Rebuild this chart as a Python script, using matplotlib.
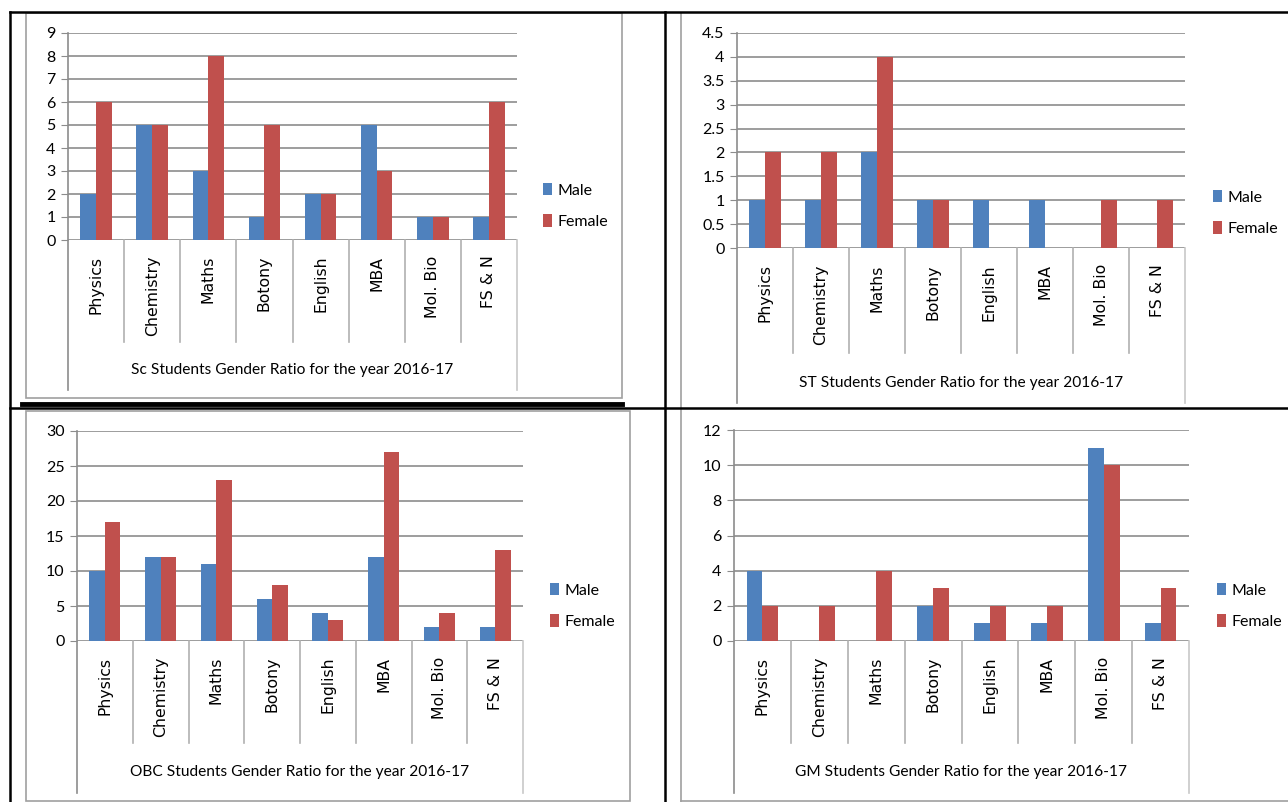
import matplotlib.pyplot as plt
from matplotlib.lines import Line2D
from matplotlib.patches import Rectangle

# subjects and counts per category
subjects = ["Physics", "Chemistry", "Maths", "Botony", "English", "MBA", "Mol. Bio", "FS & N"]

sc_male = [2, 5, 3, 1, 2, 5, 1, 1]
sc_female = [6, 5, 8, 5, 2, 3, 1, 6]

st_male = [1, 1, 2, 1, 1, 1, 0, 0]
st_female = [2, 2, 4, 1, 0, 0, 1, 1]

obc_male = [10, 12, 11, 6, 4, 12, 2, 2]
obc_female = [17, 12, 23, 8, 3, 27, 4, 13]

gm_male = [4, 0, 0, 2, 1, 1, 11, 1]
gm_female = [2, 2, 4, 3, 2, 2, 10, 3]

titles = ["Sc Students Gender Ratio for the year 2016-17",
          "ST Students Gender Ratio for the year 2016-17",
          "OBC Students Gender Ratio for the year 2016-17",
          "GM Students Gender Ratio for the year 2016-17"]

W, H = 1288, 802
MALE = "#4F81BD"
FEMALE = "#C0504D"
GRID = "#8C8C8C"
FRAME = "#A0A0A0"

fig = plt.figure(figsize=(W / 100, H / 100), dpi=100)
fig.patch.set_facecolor("white")


def fx(x):
    return x / W


def fy(y):
    return 1 - y / H


def fig_line(x0, y0, x1, y1, color="black", lw=1.5):
    fig.add_artist(Line2D([fx(x0), fx(x1)], [fy(y0), fy(y1)], color=color, lw=lw,
                          transform=fig.transFigure))


def draw_panel(male, female, title, ymax, step, box, legend_xy):
    left, top, right, bottom, sep_bot, axis_bot, title_y = box
    ax = fig.add_axes([fx(left), fy(bottom), fx(right - left), (bottom - top) / H])
    x = list(range(len(subjects)))
    w = 0.28
    ax.bar([i - w / 2 for i in x], male, width=w, color=MALE, label="Male", zorder=3)
    ax.bar([i + w / 2 for i in x], female, width=w, color=FEMALE, label="Female", zorder=3)
    ax.set_xlim(-0.5, len(subjects) - 0.5)
    ax.set_ylim(0, ymax)

    ticks = []
    v = 0
    while v <= ymax + 1e-9:
        ticks.append(v)
        v += step
    ax.set_yticks(ticks)
    ax.set_yticklabels([("%g" % t) for t in ticks], fontsize=11.5, family="Lato")
    ax.yaxis.grid(True, color=GRID, lw=1.2, zorder=0)
    ax.tick_params(axis="y", length=5, color=GRID, pad=4)
    ax.tick_params(axis="x", length=0)
    ax.set_xticks([])
    for s in ax.spines.values():
        s.set_visible(False)

    # category labels, rotated
    for i, name in enumerate(subjects):
        ax.text(i, -0.075, name, rotation=90, ha="center", va="top", fontsize=11.3,
                family="DejaVu Sans", transform=ax.get_xaxis_transform())

    # axis line and category separators below the plot
    h = bottom - top
    ax.plot([-0.5, -0.5], [1, -(axis_bot - bottom) / h], color=GRID, lw=1.2,
            transform=ax.get_xaxis_transform(), clip_on=False)
    ax.plot([len(subjects) - 0.5] * 2, [0, -(axis_bot - bottom) / h], color="#C8C8C8", lw=1.2,
            transform=ax.get_xaxis_transform(), clip_on=False)
    for i in range(len(subjects) - 1):
        ax.plot([i + 0.5, i + 0.5], [0, -(sep_bot - bottom) / h], color="#B0B0B0", lw=1.2,
                transform=ax.get_xaxis_transform(), clip_on=False)

    fig.text(fx((left + right) / 2), fy(title_y), title, ha="center", va="center",
             fontsize=11.2, family="Lato")

    ax.legend(loc="center left", bbox_to_anchor=(fx(legend_xy[0]), fy(legend_xy[1])),
              bbox_transform=fig.transFigure, frameon=False,
              handlelength=0.55, handleheight=0.8, handletextpad=0.35,
              labelspacing=1.05, borderpad=0, borderaxespad=0,
              prop={"family": "Lato", "size": 11.5})
    return ax


draw_panel(sc_male, sc_female, titles[0], 9, 1,
           (68, 33, 517, 240, 342, 390, 370), (543, 206))
draw_panel(st_male, st_female, titles[1], 4.5, 0.5,
           (737, 33, 1185, 248, 353, 403, 383), (1213, 213))
draw_panel(obc_male, obc_female, titles[2], 30, 5,
           (77, 431, 523, 641, 743, 793, 772), (550, 606))
draw_panel(gm_male, gm_female, titles[3], 12, 2,
           (734, 430, 1189, 641, 743, 793, 772), (1217, 606))

# gray chart frames
fig.add_artist(Rectangle((fx(26), fy(398)), fx(622 - 26), (398 - 13) / H, fill=False,
                         edgecolor=FRAME, lw=1.2, transform=fig.transFigure))
fig.add_artist(Rectangle((fx(26), fy(801)), fx(630 - 26), (801 - 411) / H, fill=False,
                         edgecolor=FRAME, lw=1.2, transform=fig.transFigure))
fig_line(681, 13, 681, 408, FRAME, 1.2)
fig_line(681, 410, 681, 802, FRAME, 1.2)
fig_line(681, 801, 1288, 801, FRAME, 1.2)

# table borders
fig_line(10, 12, 1288, 12, "black", 1.8)
fig_line(10, 12, 10, 802, "black", 1.8)
fig_line(665, 12, 665, 802, "black", 1.8)
fig_line(10, 408, 1288, 408, "black", 1.8)
fig_line(22, 404, 622, 404, "black", 3.5)

fig.savefig("out.png", dpi=100)
